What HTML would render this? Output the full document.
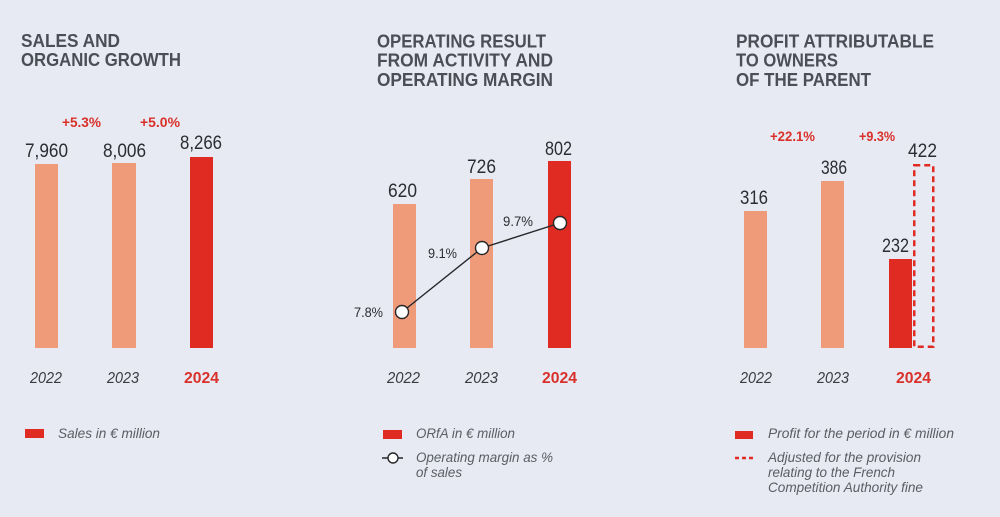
<!DOCTYPE html>
<html>
<head>
<meta charset="utf-8">
<style>
  html,body{margin:0;padding:0;background:#e7eaf2;}
  svg{display:block;}
  .t{font-family:"Liberation Sans",sans-serif;font-weight:bold;font-size:18px;fill:#4b4e56;}
  .v{font-family:"Liberation Sans",sans-serif;font-size:19px;fill:#2b2d33;}
  .p{font-family:"Liberation Sans",sans-serif;font-weight:bold;font-size:14px;fill:#d9302a;}
  .y{font-family:"Liberation Sans",sans-serif;font-style:italic;font-size:16px;fill:#3a3c42;}
  .yb{font-family:"Liberation Sans",sans-serif;font-weight:bold;font-size:16px;fill:#d9302a;}
  .m{font-family:"Liberation Sans",sans-serif;font-size:14px;fill:#2b2d33;}
  .l{font-family:"Liberation Sans",sans-serif;font-style:italic;font-size:14px;fill:#5a5d64;}
</style>
</head>
<body>
<svg width="1000" height="517" viewBox="0 0 1000 517" xmlns="http://www.w3.org/2000/svg">
  <rect x="0" y="0" width="1000" height="517" fill="#e7eaf2"/>

  <!-- Panel 1 -->
  <text class="t" x="21" y="47" textLength="99" lengthAdjust="spacingAndGlyphs">SALES AND</text>
  <text class="t" x="21" y="66" textLength="160" lengthAdjust="spacingAndGlyphs">ORGANIC GROWTH</text>

  <text class="p" x="62" y="127" textLength="39" lengthAdjust="spacingAndGlyphs">+5.3%</text>
  <text class="p" x="140" y="127" textLength="40" lengthAdjust="spacingAndGlyphs">+5.0%</text>

  <text class="v" x="25" y="157" textLength="43" lengthAdjust="spacingAndGlyphs">7,960</text>
  <text class="v" x="103" y="157" textLength="43" lengthAdjust="spacingAndGlyphs">8,006</text>
  <text class="v" x="180" y="149" textLength="42" lengthAdjust="spacingAndGlyphs">8,266</text>

  <rect x="35" y="164" width="23" height="184" fill="#ef9a78"/>
  <rect x="112" y="163" width="24" height="185" fill="#ef9a78"/>
  <rect x="190" y="157" width="23" height="191" fill="#df2b22"/>

  <text class="y" x="30" y="383" textLength="32" lengthAdjust="spacingAndGlyphs">2022</text>
  <text class="y" x="107" y="383" textLength="32" lengthAdjust="spacingAndGlyphs">2023</text>
  <text class="yb" x="184" y="383" textLength="35" lengthAdjust="spacingAndGlyphs">2024</text>

  <rect x="25" y="429" width="19" height="9" fill="#df2b22"/>
  <text class="l" x="58" y="438" textLength="102" lengthAdjust="spacingAndGlyphs">Sales in € million</text>

  <!-- Panel 2 -->
  <text class="t" x="377" y="47.5" textLength="169" lengthAdjust="spacingAndGlyphs">OPERATING RESULT</text>
  <text class="t" x="377" y="66.5" textLength="176" lengthAdjust="spacingAndGlyphs">FROM ACTIVITY AND</text>
  <text class="t" x="377" y="86" textLength="176" lengthAdjust="spacingAndGlyphs">OPERATING MARGIN</text>

  <text class="v" x="388" y="197" textLength="29" lengthAdjust="spacingAndGlyphs">620</text>
  <text class="v" x="467" y="173" textLength="29" lengthAdjust="spacingAndGlyphs">726</text>
  <text class="v" x="545" y="155" textLength="27" lengthAdjust="spacingAndGlyphs">802</text>

  <rect x="393" y="204" width="23" height="144" fill="#ef9a78"/>
  <rect x="470" y="179" width="23" height="169" fill="#ef9a78"/>
  <rect x="548" y="161" width="23" height="187" fill="#df2b22"/>

  <polyline points="402,312 482,248 560,223" fill="none" stroke="#26272b" stroke-width="1.4"/>
  <circle cx="402" cy="312" r="6.5" fill="#fff" stroke="#26272b" stroke-width="1.4"/>
  <circle cx="482" cy="248" r="6.5" fill="#fff" stroke="#26272b" stroke-width="1.4"/>
  <circle cx="560" cy="223" r="6.5" fill="#fff" stroke="#26272b" stroke-width="1.4"/>

  <text class="m" x="354" y="317" textLength="29" lengthAdjust="spacingAndGlyphs">7.8%</text>
  <text class="m" x="428" y="258" textLength="29" lengthAdjust="spacingAndGlyphs">9.1%</text>
  <text class="m" x="503" y="226" textLength="30" lengthAdjust="spacingAndGlyphs">9.7%</text>

  <text class="y" x="387" y="383" textLength="33" lengthAdjust="spacingAndGlyphs">2022</text>
  <text class="y" x="465" y="383" textLength="33" lengthAdjust="spacingAndGlyphs">2023</text>
  <text class="yb" x="542" y="383" textLength="35" lengthAdjust="spacingAndGlyphs">2024</text>

  <rect x="383" y="430" width="19" height="9" fill="#df2b22"/>
  <text class="l" x="416" y="438" textLength="99" lengthAdjust="spacingAndGlyphs">ORfA in € million</text>
  <line x1="382" y1="458" x2="403" y2="458" stroke="#26272b" stroke-width="1.4"/>
  <circle cx="393" cy="458" r="5" fill="#fff" stroke="#26272b" stroke-width="1.4"/>
  <text class="l" x="416" y="462" textLength="137" lengthAdjust="spacingAndGlyphs">Operating margin as %</text>
  <text class="l" x="416" y="477" textLength="46" lengthAdjust="spacingAndGlyphs">of sales</text>

  <!-- Panel 3 -->
  <text class="t" x="736" y="47.5" textLength="198" lengthAdjust="spacingAndGlyphs">PROFIT ATTRIBUTABLE</text>
  <text class="t" x="736" y="66.5" textLength="102" lengthAdjust="spacingAndGlyphs">TO OWNERS</text>
  <text class="t" x="736" y="86" textLength="135" lengthAdjust="spacingAndGlyphs">OF THE PARENT</text>

  <text class="p" x="770" y="141" textLength="45" lengthAdjust="spacingAndGlyphs">+22.1%</text>
  <text class="p" x="859" y="141" textLength="36" lengthAdjust="spacingAndGlyphs">+9.3%</text>

  <text class="v" x="740" y="204" textLength="28" lengthAdjust="spacingAndGlyphs">316</text>
  <text class="v" x="821" y="174" textLength="26" lengthAdjust="spacingAndGlyphs">386</text>
  <text class="v" x="882" y="252" textLength="27" lengthAdjust="spacingAndGlyphs">232</text>
  <text class="v" x="908" y="157" textLength="29" lengthAdjust="spacingAndGlyphs">422</text>

  <rect x="744" y="211" width="23" height="137" fill="#ef9a78"/>
  <rect x="821" y="181" width="23" height="167" fill="#ef9a78"/>
  <rect x="889" y="259" width="23" height="89" fill="#df2b22"/>
  <rect x="914.25" y="165.25" width="19" height="181.5" fill="none" stroke="#df2b22" stroke-width="2.5" stroke-dasharray="6,4"/>

  <text class="y" x="740" y="383" textLength="32" lengthAdjust="spacingAndGlyphs">2022</text>
  <text class="y" x="817" y="383" textLength="32" lengthAdjust="spacingAndGlyphs">2023</text>
  <text class="yb" x="896" y="383" textLength="35" lengthAdjust="spacingAndGlyphs">2024</text>

  <rect x="735" y="431" width="18" height="8" fill="#df2b22"/>
  <text class="l" x="768" y="438" textLength="186" lengthAdjust="spacingAndGlyphs">Profit for the period in € million</text>
  <line x1="735" y1="458" x2="753" y2="458" stroke="#df2b22" stroke-width="2.5" stroke-dasharray="4,3"/>
  <text class="l" x="768" y="462" textLength="153" lengthAdjust="spacingAndGlyphs">Adjusted for the provision</text>
  <text class="l" x="768" y="477" textLength="127" lengthAdjust="spacingAndGlyphs">relating to the French</text>
  <text class="l" x="768" y="492" textLength="155" lengthAdjust="spacingAndGlyphs">Competition Authority fine</text>
</svg>
</body>
</html>
